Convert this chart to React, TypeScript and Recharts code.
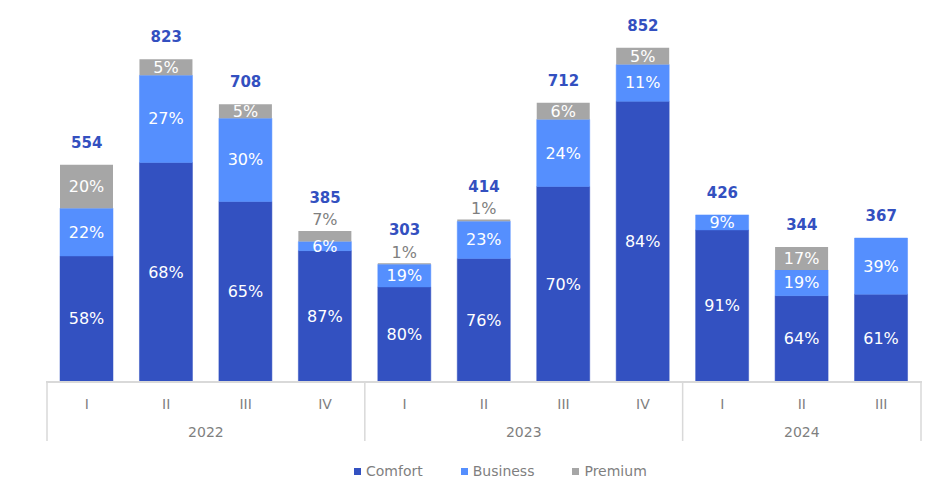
import { Bar, ComposedChart, LabelList, Legend, Line, XAxis, YAxis } from 'recharts';

const quarters = ['I', 'II', 'III', 'IV', 'I', 'II', 'III', 'IV', 'I', 'II', 'III'];
const years = ['2022', '2022', '2022', '2022', '2023', '2023', '2023', '2023', '2024', '2024', '2024'];
const totals = [554, 823, 708, 385, 303, 414, 712, 852, 426, 344, 367];
const comfortPct = [58, 68, 65, 87, 80, 76, 70, 84, 91, 64, 61];
const businessPct = [22, 27, 30, 6, 19, 23, 24, 11, 9, 19, 39];
const premiumPct = [20, 5, 5, 7, 1, 1, 6, 5, 0, 17, 0];

const COMFORT = '#3351C1';
const BUSINESS = '#558FFE';
const PREMIUM = '#A6A6A6';
const TICK_GRAY = '#7F7F7F';
const AXIS_GRAY = '#D9D9D9';
const TOTAL_BLUE = '#3350C0';

const data = quarters.map((q, i) => ({
  q,
  year: years[i],
  total: totals[i],
  comfort: (totals[i] * comfortPct[i]) / 100,
  business: (totals[i] * businessPct[i]) / 100,
  premium: (totals[i] * premiumPct[i]) / 100,
  comfortPct: comfortPct[i],
  businessPct: businessPct[i],
  premiumPct: premiumPct[i],
}));

// a premium cap this thin gets its label above the bar instead of inside
const isThinTop = (i: number) => premiumPct[i] > 0 && data[i].premium < 30;

function SegmentLabel(props: any) {
  const { x, y, width, height, value, index, outside } = props;
  if (!value) return null;
  const cx = Number(x) + Number(width) / 2;
  if (outside && isThinTop(index)) {
    return (
      <text x={cx} y={Number(y) - 11} fill={TICK_GRAY} fontSize={16} textAnchor="middle" dominantBaseline="central">
        {`${value}%`}
      </text>
    );
  }
  return (
    <text x={cx} y={Number(y) + Number(height) / 2} fill="#fff" fontSize={16} textAnchor="middle" dominantBaseline="central">
      {`${value}%`}
    </text>
  );
}

function TotalLabel(props: any) {
  const { x, y, value, index } = props;
  const lift = isThinTop(index) ? 33 : 22;
  return (
    <text x={x} y={Number(y) - lift} fill={TOTAL_BLUE} fontSize={15} fontWeight="bold" textAnchor="middle" dominantBaseline="central">
      {value}
    </text>
  );
}

function GroupTick(props: any) {
  const { x, y, payload } = props;
  const i: number = payload.index;
  const off: number = payload.offset || 39.8;
  const yr = years[i];
  const first = years.indexOf(yr);
  const last = years.lastIndexOf(yr);
  const n = last - first + 1;
  const mid = first + Math.floor((n - 1) / 2);
  const yearX = n % 2 === 0 ? x + off : x;
  return (
    <g>
      <line x1={x - off - 1} x2={x + off + 1} y1={y} y2={y} stroke={AXIS_GRAY} strokeWidth={2} />
      {i === first && <line x1={x - off} x2={x - off} y1={y} y2={y + 59} stroke={AXIS_GRAY} strokeWidth={1.5} />}
      {i === quarters.length - 1 && (
        <line x1={x + off} x2={x + off} y1={y} y2={y + 59} stroke={AXIS_GRAY} strokeWidth={1.5} />
      )}
      <text x={x} y={y + 22} fill={TICK_GRAY} fontSize={14} textAnchor="middle" dominantBaseline="central">
        {payload.value}
      </text>
      {i === mid && (
        <text x={yearX} y={y + 50} fill={TICK_GRAY} fontSize={14} textAnchor="middle" dominantBaseline="central">
          {yr}
        </text>
      )}
    </g>
  );
}

const legendItems = [
  { name: 'Comfort', color: COMFORT },
  { name: 'Business', color: BUSINESS },
  { name: 'Premium', color: PREMIUM },
];

function LegendContent() {
  return (
    <div style={{ height: 45, display: 'flex', paddingLeft: 307, paddingTop: 21, boxSizing: 'border-box' }}>
      {legendItems.map((it) => (
        <div key={it.name} style={{ display: 'flex', alignItems: 'center', marginRight: 38, height: 16 }}>
          <span style={{ width: 7, height: 7, background: it.color, marginRight: 5, display: 'inline-block' }} />
          <span style={{ fontSize: 14, color: TICK_GRAY, lineHeight: '16px' }}>{it.name}</span>
        </div>
      ))}
    </div>
  );
}

export default function App() {
  return (
    <div style={{ position: 'absolute', left: 0, top: 0, width: 940, height: 487, background: '#fff', fontFamily: '"DejaVu Sans", Verdana, sans-serif' }}>
      <ComposedChart width={940} height={487} data={data} margin={{ top: 29, right: 19, bottom: 0, left: 47 }}>
        <XAxis dataKey="q" height={60} axisLine={false} tickLine={false} tickSize={0} tickMargin={0} interval={0} tick={<GroupTick />} />
        <YAxis hide domain={[0, 900]} />
        <Legend verticalAlign="bottom" content={<LegendContent />} wrapperStyle={{ height: 45 }} />
        <Bar dataKey="comfort" stackId="s" fill={COMFORT} stroke={COMFORT} strokeWidth={0.5} barSize={53} isAnimationActive={false}>
          <LabelList dataKey="comfortPct" content={<SegmentLabel />} />
        </Bar>
        <Bar dataKey="business" stackId="s" fill={BUSINESS} stroke={BUSINESS} strokeWidth={0.5} barSize={53} isAnimationActive={false}>
          <LabelList dataKey="businessPct" content={<SegmentLabel />} />
        </Bar>
        <Bar dataKey="premium" stackId="s" fill={PREMIUM} barSize={53} isAnimationActive={false}>
          <LabelList dataKey="premiumPct" content={<SegmentLabel outside />} />
        </Bar>
        <Line dataKey="total" stroke="none" dot={false} activeDot={false} legendType="none" isAnimationActive={false}>
          <LabelList dataKey="total" content={<TotalLabel />} />
        </Line>
      </ComposedChart>
    </div>
  );
}
